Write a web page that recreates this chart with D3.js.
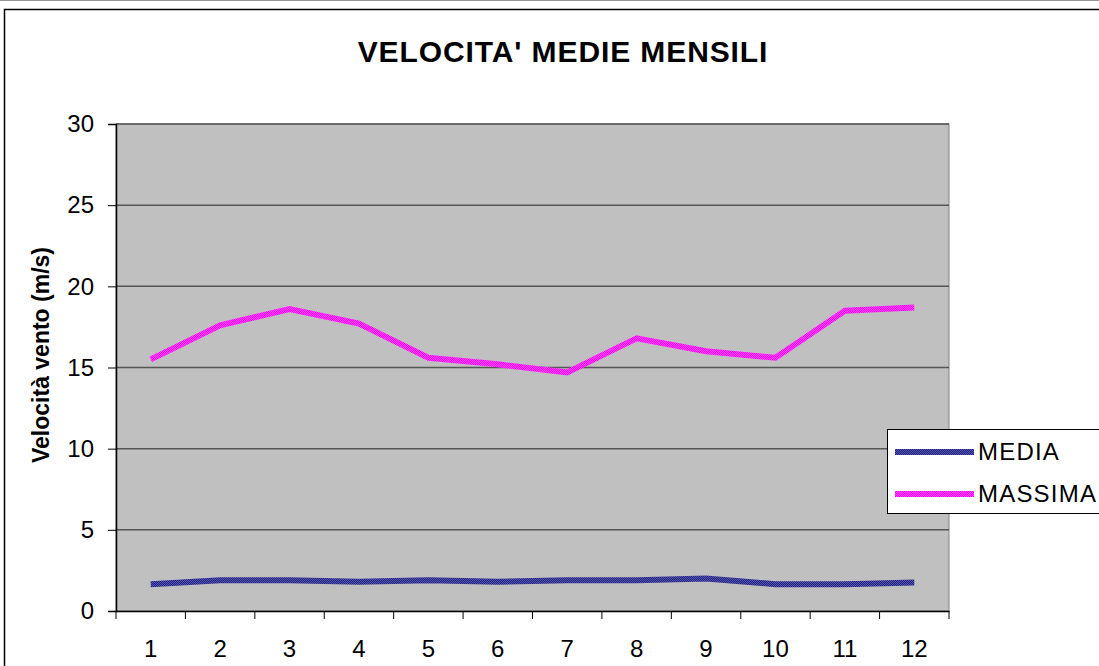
<!DOCTYPE html>
<html>
<head>
<meta charset="utf-8">
<script src="https://cdn.jsdelivr.net/npm/d3@7"></script>
<style>
  body { margin: 0; background: #fff; }
  svg { display: block; font-family: "Liberation Sans", Arial, sans-serif; }
</style>
</head>
<body>
<div id="viz"></div>
<script>
// data
const months = ["1", "2", "3", "4", "5", "6", "7", "8", "9", "10", "11", "12"];
const media = [1.65, 1.9, 1.9, 1.8, 1.9, 1.8, 1.9, 1.9, 2.0, 1.65, 1.65, 1.75];
const massima = [15.5, 17.6, 18.6, 17.7, 15.6, 15.2, 14.7, 16.8, 16.0, 15.6, 18.5, 18.7];
const yTicks = [0, 5, 10, 15, 20, 25, 30];
const seriesNames = ["MEDIA", "MASSIMA"];
const seriesColors = [["#22227a", "#5555b5"], ["#ff00ff", "#ff4cff"]];

const width = 1099, height = 666;
const plot = { left: 116, right: 949, top: 124, bottom: 611 };

const svg = d3.select("#viz").append("svg")
    .attr("width", width)
    .attr("height", height);

// dithered fills, like the old office line styles
const defs = svg.append("defs");
seriesColors.forEach((c, i) => {
    const p = defs.append("pattern")
        .attr("id", "dither" + i)
        .attr("patternUnits", "userSpaceOnUse")
        .attr("width", 2).attr("height", 2);
    p.append("rect").attr("width", 2).attr("height", 2).attr("fill", c[0]);
    p.append("rect").attr("width", 1).attr("height", 1).attr("fill", c[1]);
    p.append("rect").attr("x", 1).attr("y", 1).attr("width", 1).attr("height", 1).attr("fill", c[1]);
});

// thin gray line at the very top, then the chart frame
svg.append("line")
    .attr("x1", 0).attr("x2", width)
    .attr("y1", 0.5).attr("y2", 0.5)
    .attr("stroke", "#999");
svg.append("rect")
    .attr("x", 4.5).attr("y", 9.5)
    .attr("width", width + 10).attr("height", height + 10)
    .attr("fill", "#fff")
    .attr("stroke", "#000")
    .attr("stroke-width", 1.5);

const x = d3.scaleBand()
    .domain(months)
    .range([plot.left, plot.right]);

const y = d3.scaleLinear()
    .domain([0, 30])
    .range([plot.bottom, plot.top]);

// plot background
svg.append("rect")
    .attr("x", plot.left).attr("y", plot.top)
    .attr("width", plot.right - plot.left)
    .attr("height", plot.bottom - plot.top)
    .attr("fill", "#c0c0c0")
    .attr("stroke", "#808080");

// gridlines
svg.append("g")
    .selectAll("line")
    .data(yTicks.filter(d => d > 0))
    .enter()
    .append("line")
    .attr("x1", plot.left).attr("x2", plot.right)
    .attr("y1", d => y(d)).attr("y2", d => y(d))
    .attr("stroke", "#555")
    .attr("stroke-width", 1.5);

// axes
const yAxis = d3.axisLeft(y)
    .tickValues(yTicks)
    .tickSize(8)
    .tickPadding(14);
const gy = svg.append("g")
    .attr("transform", `translate(${plot.left},0)`)
    .call(yAxis);
gy.select(".domain").attr("stroke", "#000").attr("stroke-width", 1.5);

const xAxis = d3.axisBottom(x)
    .tickSize(0)
    .tickPadding(29);
const gx = svg.append("g")
    .attr("transform", `translate(0,${plot.bottom})`)
    .call(xAxis);
gx.select(".domain").attr("stroke", "#000").attr("stroke-width", 1.5);

// x tick marks sit between categories
gx.selectAll(".sep")
    .data(months.concat(["end"]))
    .enter()
    .append("line")
    .attr("class", "sep")
    .attr("x1", (d, i) => i < months.length ? x(d) : x.range()[1])
    .attr("x2", (d, i) => i < months.length ? x(d) : x.range()[1])
    .attr("y1", 0).attr("y2", 8)
    .attr("stroke", "#000");

svg.selectAll(".tick text")
    .style("font-size", "24px")
    .attr("fill", "#000");

// lines
const line = d3.line()
    .x((d, i) => x(months[i]) + x.bandwidth() / 2)
    .y(d => y(d));

[media, massima].forEach((values, k) => {
    svg.append("path")
        .datum(values)
        .attr("d", line)
        .attr("fill", "none")
        .attr("stroke", `url(#dither${k})`)
        .attr("stroke-width", 6);
});

// title
svg.append("text")
    .attr("x", 563)
    .attr("y", 62)
    .attr("text-anchor", "middle")
    .style("font-size", "30px")
    .style("font-weight", "bold")
    .style("letter-spacing", "0.9px")
    .text("VELOCITA' MEDIE MENSILI");

// y label
svg.append("text")
    .attr("transform", `translate(49,${355}) rotate(-90)`)
    .attr("text-anchor", "middle")
    .style("font-size", "23px")
    .style("font-weight", "bold")
    .text("Velocità vento (m/s)");

// legend
const legend = svg.append("g").attr("transform", "translate(887,429)");
legend.append("rect")
    .attr("x", 0.5).attr("y", 0.5)
    .attr("width", 230).attr("height", 84)
    .attr("fill", "#fff")
    .attr("stroke", "#000");

seriesNames.forEach((name, i) => {
    const ly = 23 + i * 42;
    legend.append("line")
        .attr("x1", 8).attr("x2", 87)
        .attr("y1", ly).attr("y2", ly)
        .attr("stroke", `url(#dither${i})`)
        .attr("stroke-width", 6);
    legend.append("text")
        .attr("x", 91)
        .attr("y", ly + 8)
        .style("font-size", "24px")
        .style("letter-spacing", "1.2px")
        .text(name);
});
</script>
</body>
</html>
